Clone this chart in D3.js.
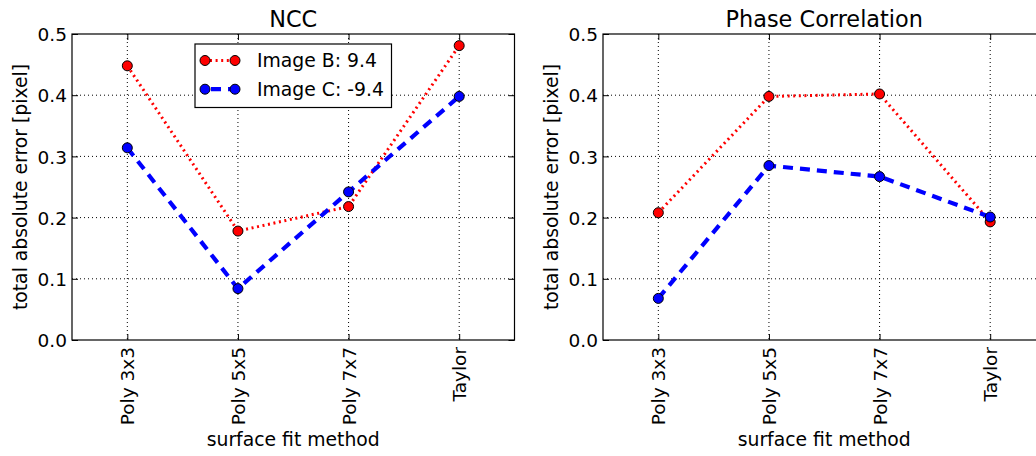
<!DOCTYPE html>
<html>
<head>
<meta charset="utf-8">
<script src="https://cdn.jsdelivr.net/npm/d3@7"></script>
<style>
  body { margin: 0; background: #fff; }
  svg { display: block; font-family: "DejaVu Sans", sans-serif; }
</style>
</head>
<body>
<svg id="chart" width="1036" height="456"></svg>
<script>
// Surface fit methods (x categories)
const methods = ["Poly 3x3", "Poly 5x5", "Poly 7x7", "Taylor"];
const yTicks = [0.0, 0.1, 0.2, 0.3, 0.4, 0.5];

// NCC panel
const nccImageB = [0.448, 0.178, 0.218, 0.481];
const nccImageC = [0.314, 0.084, 0.242, 0.398];

// Phase correlation panel
const pcImageB = [0.208, 0.398, 0.402, 0.193];
const pcImageC = [0.068, 0.285, 0.267, 0.201];

const seriesNames = ["Image B: 9.4", "Image C: -9.4"];
const panelTitles = ["NCC", "Phase Correlation"];

const svg = d3.select("#chart");

const red = "#ff0000", blue = "#0000ff";
const styles = [
  { color: red, width: 3, dash: "2,3.6" },
  { color: blue, width: 4.2, dash: "10,7" }
];

const panels = [
  { title: panelTitles[0], series: [nccImageB, nccImageC], left: 72, right: 514.5, legend: true },
  { title: panelTitles[1], series: [pcImageB, pcImageC], left: 603, right: 1045.5, legend: false }
];

const plotTop = 34, plotBottom = 340;
const tickFont = 18.5, labelFont = 18.8, titleFont = 22.4, legendFont = 18.8;

panels.forEach(p => {
  const g = svg.append("g");
  const x = d3.scaleLinear().domain([-0.5, methods.length - 0.5]).range([p.left, p.right]);
  const y = d3.scaleLinear().domain([0, 0.5]).range([plotBottom, plotTop]);

  // grid
  g.append("g").selectAll("line").data(methods).join("line")
    .attr("x1", (d, i) => x(i)).attr("x2", (d, i) => x(i))
    .attr("y1", plotTop).attr("y2", plotBottom)
    .attr("stroke", "#000").attr("stroke-width", 1).attr("stroke-dasharray", "1,3");
  g.append("g").selectAll("line").data(yTicks.slice(1, -1)).join("line")
    .attr("x1", p.left).attr("x2", p.right)
    .attr("y1", d => y(d)).attr("y2", d => y(d))
    .attr("stroke", "#000").attr("stroke-width", 1).attr("stroke-dasharray", "1,3");

  // axes (ticks inward, on all four sides)
  const tl = 6;
  const xb = g.append("g").attr("transform", `translate(0,${plotBottom})`)
    .call(d3.axisBottom(x).tickValues(d3.range(methods.length)).tickSize(-tl).tickFormat((d) => methods[d]));
  const xt = g.append("g").attr("transform", `translate(0,${plotTop})`)
    .call(d3.axisTop(x).tickValues(d3.range(methods.length)).tickSize(-tl).tickFormat(""));
  const yl = g.append("g").attr("transform", `translate(${p.left},0)`)
    .call(d3.axisLeft(y).tickValues(yTicks).tickSize(-tl).tickFormat(d3.format(".1f")));
  const yr = g.append("g").attr("transform", `translate(${p.right},0)`)
    .call(d3.axisRight(y).tickValues(yTicks).tickSize(-tl).tickFormat(""));
  [xb, xt, yl, yr].forEach(a => {
    a.select(".domain").remove();
    a.selectAll(".tick line").attr("stroke", "#000").attr("stroke-width", 1);
  });
  yl.selectAll(".tick text").attr("x", -5).attr("font-size", tickFont)
    .attr("font-family", "DejaVu Sans").attr("fill", "#000").attr("dy", "0.36em");
  xb.selectAll(".tick text")
    .attr("font-size", tickFont).attr("font-family", "DejaVu Sans").attr("fill", "#000")
    .attr("transform", "rotate(-90)")
    .attr("text-anchor", "end").attr("x", -7).attr("y", 0).attr("dy", "0.36em");

  // frame
  g.append("rect").attr("x", p.left).attr("y", plotTop)
    .attr("width", p.right - p.left).attr("height", plotBottom - plotTop)
    .attr("fill", "none").attr("stroke", "#000").attr("stroke-width", 1.2);

  // title and axis labels
  g.append("text").attr("x", (p.left + p.right) / 2).attr("y", 27)
    .attr("text-anchor", "middle").attr("font-size", titleFont).text(p.title);
  g.append("text").attr("x", (p.left + p.right) / 2).attr("y", 446)
    .attr("text-anchor", "middle").attr("font-size", labelFont).text("surface fit method");
  g.append("text")
    .attr("transform", `translate(${p.left - 45},${(plotTop + plotBottom) / 2}) rotate(-90)`)
    .attr("text-anchor", "middle").attr("font-size", labelFont).text("total absolute error [pixel]");

  // series
  const line = d3.line().x((d, i) => x(i)).y(d => y(d));
  p.series.forEach((vals, si) => {
    const s = styles[si];
    g.append("path").datum(vals).attr("d", line)
      .attr("fill", "none").attr("stroke", s.color)
      .attr("stroke-width", s.width).attr("stroke-dasharray", s.dash);
  });
  p.series.forEach((vals, si) => {
    const s = styles[si];
    g.append("g").selectAll("circle").data(vals).join("circle")
      .attr("cx", (d, i) => x(i)).attr("cy", d => y(d)).attr("r", 5)
      .attr("fill", s.color).attr("stroke", "#000").attr("stroke-width", 1);
  });

  // legend
  if (p.legend) {
    const lg = g.append("g");
    lg.append("rect").attr("x", 195).attr("y", 44).attr("width", 196.5).attr("height", 63.5)
      .attr("fill", "#fff").attr("stroke", "#000").attr("stroke-width", 1.2);
    seriesNames.forEach((name, si) => {
      const s = styles[si];
      const ly = 60.5 + si * 28.7;
      lg.append("line").attr("x1", 205).attr("x2", 235).attr("y1", ly).attr("y2", ly)
        .attr("stroke", s.color).attr("stroke-width", s.width).attr("stroke-dasharray", s.dash)
        .attr("stroke-dashoffset", si === 0 ? -5 : -6);
      [205, 235].forEach(cx => lg.append("circle").attr("cx", cx).attr("cy", ly).attr("r", 5)
        .attr("fill", s.color).attr("stroke", "#000").attr("stroke-width", 1));
      lg.append("text").attr("x", 257).attr("y", ly).attr("dy", "0.36em")
        .attr("font-size", legendFont).text(name);
    });
  }
});
</script>
</body>
</html>
